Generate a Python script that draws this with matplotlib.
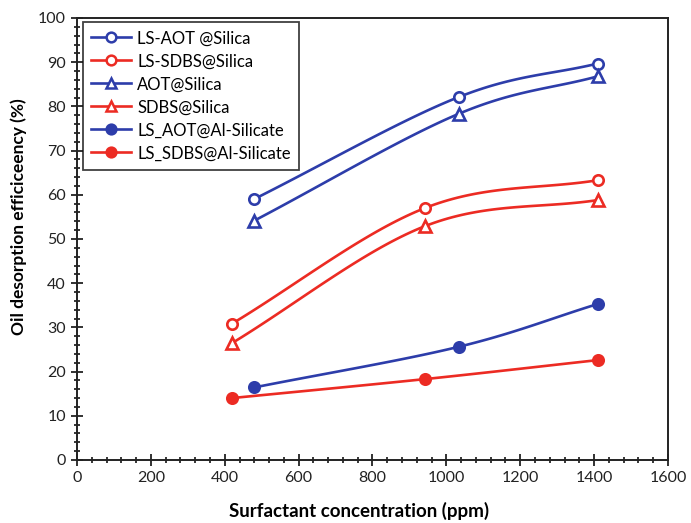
import numpy as np
import matplotlib
matplotlib.use("Agg")
import matplotlib.pyplot as plt
from matplotlib.ticker import MultipleLocator

plt.rcParams['font.family'] = ['Lato', 'DejaVu Sans']

x_aot = [479, 1033, 1410]
x_sdbs = [419, 942, 1410]

ls_aot_silica = [59.0, 82.1, 89.7]
ls_sdbs_silica = [30.8, 57.0, 63.3]
aot_silica = [54.1, 78.3, 86.8]
sdbs_silica = [26.4, 52.9, 58.8]
ls_aot_al = [16.4, 25.6, 35.3]
ls_sdbs_al = [14.0, 18.3, 22.6]

labels = ["LS-AOT @Silica", "LS-SDBS@Silica", "AOT@Silica", "SDBS@Silica",
          "LS_AOT@Al-Silicate", "LS_SDBS@Al-Silicate"]

BLUE = '#2D3DAA'
RED = '#EC2B23'


def catmull(xs, ys, n=40, tension=0.5):
    xs = np.asarray(xs, float); ys = np.asarray(ys, float)
    px = np.concatenate([[2*xs[0]-xs[1]], xs, [2*xs[-1]-xs[-2]]])
    py = np.concatenate([[2*ys[0]-ys[1]], ys, [2*ys[-1]-ys[-2]]])
    ox, oy = [], []
    for i in range(1, len(px)-2):
        p0, p1, p2, p3 = (np.array([px[j], py[j]]) for j in range(i-1, i+3))
        m1 = tension*(p2-p0)
        m2 = tension*(p3-p1)
        t = np.linspace(0, 1, n)[:, None]
        h00 = 2*t**3-3*t**2+1; h10 = t**3-2*t**2+t
        h01 = -2*t**3+3*t**2; h11 = t**3-t**2
        pts = h00*p1+h10*m1+h01*p2+h11*m2
        ox.extend(pts[:, 0]); oy.extend(pts[:, 1])
    return np.array(ox), np.array(oy)


fig = plt.figure(figsize=(6.91, 5.23), dpi=100)
ax = fig.add_axes([0.1114, 0.1205, 0.8553, 0.8451])

series = [
    (x_aot, ls_aot_silica, BLUE, 'o', 'none'),
    (x_sdbs, ls_sdbs_silica, RED, 'o', 'none'),
    (x_aot, aot_silica, BLUE, '^', 'none'),
    (x_sdbs, sdbs_silica, RED, '^', 'none'),
    (x_aot, ls_aot_al, BLUE, 'o', 'fill'),
    (x_sdbs, ls_sdbs_al, RED, 'o', 'fill'),
]

handles = []
for (xs, ys, c, m, f), lab in zip(series, labels):
    sx, sy = catmull(xs, ys)
    ax.plot(sx, sy, color=c, lw=1.9, zorder=2)
    mfc = 'white' if f == 'none' else c
    ms = 7.5 if m == 'o' else 8
    ax.plot(xs, ys, linestyle='none', marker=m, markersize=ms,
            markerfacecolor=mfc, markeredgecolor=c, markeredgewidth=1.9, zorder=3)
    h, = ax.plot([], [], color=c, lw=1.9, marker=m, markersize=7,
                 markerfacecolor=mfc, markeredgecolor=c, markeredgewidth=1.8, label=lab)
    handles.append(h)

ax.set_xlim(0, 1600)
ax.set_ylim(0, 100)
ax.xaxis.set_major_locator(MultipleLocator(200))
ax.xaxis.set_minor_locator(MultipleLocator(40))
ax.yaxis.set_major_locator(MultipleLocator(10))
ax.yaxis.set_minor_locator(MultipleLocator(2))
ax.tick_params(which='major', direction='inout', length=8, width=1.3, labelsize=11.5,
               colors='#222222', pad=4)
ax.tick_params(which='minor', direction='inout', length=5, width=1.1)
for s in ax.spines.values():
    s.set_linewidth(1.4)
    s.set_color('#222222')

ax.set_xlabel('Surfactant concentration (ppm)', fontsize=13.5, fontweight='bold')
ax.set_ylabel('Oil desorption efficiceency (%)', fontsize=12.5, fontweight='bold')
ax.xaxis.set_label_coords(0.477, -0.095)
ax.yaxis.set_label_coords(-0.084, 0.55)

leg = ax.legend(handles=handles, loc='upper left', bbox_to_anchor=(0.010, 0.991),
                borderaxespad=0, fontsize=12, frameon=True, fancybox=False,
                handlelength=2.4, labelspacing=0.42, borderpad=0.5, handletextpad=0.35)
leg.get_frame().set_edgecolor('#111111')
leg.get_frame().set_linewidth(1.3)

fig.savefig('out.png', dpi=100)
